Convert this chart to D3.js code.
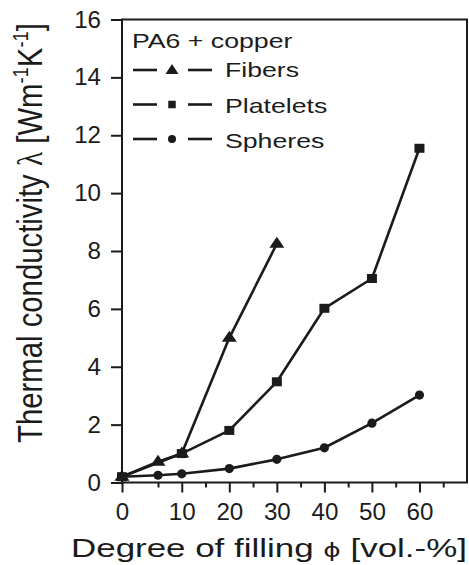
<!DOCTYPE html>
<html>
<head>
<meta charset="utf-8">
<script src="https://cdn.jsdelivr.net/npm/d3@7"></script>
<style>
  html, body { margin: 0; padding: 0; background: #fff; }
  svg { display: block; }
  text { font-family: "Liberation Sans", Arial, sans-serif; fill: #1b1b1b; }
</style>
</head>
<body>
<svg id="chart" width="469" height="565"></svg>
<script>
// Thermal conductivity of PA6 filled with copper particles of different shapes
const fillFibers = [0, 5, 10, 20, 30];
const lambdaFibers = [0.2, 0.72, 1.0, 5.0, 8.25];

const fillPlatelets = [0, 10, 20, 30, 40, 50, 60];
const lambdaPlatelets = [0.2, 1.0, 1.8, 3.48, 6.02, 7.05, 11.55];

const fillSpheres = [0, 5, 10, 20, 30, 40, 50, 60];
const lambdaSpheres = [0.2, 0.25, 0.3, 0.48, 0.8, 1.2, 2.05, 3.02];

const seriesNames = ["Fibers", "Platelets", "Spheres"];
const xTickValues = [0, 10, 20, 30, 40, 50, 60];
const xMinorValues = [5, 15, 25, 35, 45, 55, 65];
const yTickValues = [0, 2, 4, 6, 8, 10, 12, 14, 16];

const svg = d3.select("#chart");
const ink = "#1b1b1b";

// x axis starts with a short 0-5 segment, then a regular scale
const x = d3.scaleLinear().domain([0, 5, 70]).range([122, 158, 467]);
const y = d3.scaleLinear().domain([0, 16]).range([482.5, 19.5]);

// text stretched horizontally by a factor sx
function addText(g, str, px, py, opts) {
  const t = g.append("text")
    .attr("font-size", opts.size)
    .attr("text-anchor", opts.anchor || "start")
    .text(str);
  t.attr("transform", `translate(${px},${py}) scale(${opts.sx || 1},1)`);
  return t;
}

// plot frame
const frame = svg.append("g").attr("fill", "none").attr("stroke", ink).attr("stroke-width", 2);
frame.append("path")
  .attr("d", `M${x(0)},${y(0)} V${y(16)} H${x(70)} V${y(0)} Z`);

// y axis ticks and labels
const yAxis = d3.axisLeft(y).tickValues(yTickValues).tickSize(11).tickFormat(d3.format("d"));
const gy = svg.append("g").attr("transform", `translate(${x(0)},0)`).call(yAxis);
gy.select(".domain").remove();
gy.selectAll(".tick line").attr("stroke", ink).attr("stroke-width", 2);
gy.selectAll(".tick text").remove();
yTickValues.forEach(v => {
  addText(svg, String(v), 101, y(v) + 8, { size: 23, anchor: "end", sx: 1.05 });
});

// x axis major and minor ticks
const xAxis = d3.axisBottom(x).tickValues(xTickValues).tickSize(10);
const gx = svg.append("g").attr("transform", `translate(0,${y(0)})`).call(xAxis);
gx.select(".domain").remove();
gx.selectAll(".tick line").attr("stroke", ink).attr("stroke-width", 2);
gx.selectAll(".tick text").remove();
const xMinor = d3.axisBottom(x).tickValues(xMinorValues).tickSize(5).tickFormat("");
const gxm = svg.append("g").attr("transform", `translate(0,${y(0)})`).call(xMinor);
gxm.select(".domain").remove();
gxm.selectAll(".tick line").attr("stroke", ink).attr("stroke-width", 2);
xTickValues.forEach(v => {
  addText(svg, String(v), x(v) + 0.5, 520, { size: 23, anchor: "middle", sx: 1.05 });
});

// axis titles
const xt = svg.append("text")
  .attr("font-size", 25)
  .attr("transform", "translate(71,557)");
xt.append("tspan").text("Degree of filling ");
xt.append("tspan").attr("font-family", "DejaVu Sans").attr("font-size", 19).text("\u03D5");
xt.append("tspan").text(" [vol.-%]");
{
  const w = xt.node().getBBox().width;
  xt.attr("transform", `translate(71,557) scale(${396 / w},1)`);
}

const yt = svg.append("text")
  .attr("font-size", 27)
  .attr("text-anchor", "middle");
yt.append("tspan").text("Thermal conductivity ");
yt.append("tspan").attr("font-family", "Liberation Serif").text("\u03BB");
yt.append("tspan").text(" [Wm");
yt.append("tspan").attr("font-size", 17).attr("dy", -11).text("-1");
yt.append("tspan").attr("dy", 11).text("K");
yt.append("tspan").attr("font-size", 17).attr("dy", -11).text("-1");
yt.append("tspan").attr("dy", 11).text("]");
{
  const len = yt.node().getComputedTextLength();
  const k = 420 / len;
  yt.attr("transform", `translate(42,233) scale(1.3,1) rotate(-90) scale(${k},1)`);
}

// markers
const tri = "M0,-7 L7.5,4 L-7.5,4 Z";
function square(w, h) { return `M${-w / 2},${-h / 2} h${w} v${h} h${-w} Z`; }

const lineGen = d3.line().x(d => x(d[0])).y(d => y(d[1]));
const plot = svg.append("g");

function drawSeries(xs, ys, kind) {
  const pts = xs.map((v, i) => [v, ys[i]]);
  plot.append("path")
    .attr("d", lineGen(pts))
    .attr("fill", "none").attr("stroke", ink)
    .attr("stroke-width", 2.6).attr("stroke-linejoin", "round");
  const m = plot.append("g").attr("fill", ink);
  pts.forEach(p => {
    if (kind === "circle") {
      m.append("circle").attr("cx", x(p[0])).attr("cy", y(p[1])).attr("r", 4.6);
    } else if (kind === "square") {
      m.append("path").attr("d", square(10, 9)).attr("transform", `translate(${x(p[0])},${y(p[1])})`);
    } else {
      m.append("path").attr("d", tri).attr("transform", `translate(${x(p[0])},${y(p[1])})`);
    }
  });
}
drawSeries(fillSpheres, lambdaSpheres, "circle");
drawSeries(fillPlatelets, lambdaPlatelets, "square");
drawSeries(fillFibers, lambdaFibers, "triangle");

// legend
const lg = svg.append("g");
addText(lg, "PA6 + copper", 132, 48, { size: 21, sx: 1.27 });
const kinds = ["triangle", "square", "circle"];
const rowY = [70, 104.5, 139];
const textY = [77, 112.5, 147.5];
seriesNames.forEach((name, i) => {
  lg.append("line").attr("x1", 133).attr("x2", 157).attr("y1", rowY[i]).attr("y2", rowY[i])
    .attr("stroke", ink).attr("stroke-width", 2.6);
  lg.append("line").attr("x1", 188).attr("x2", 212).attr("y1", rowY[i]).attr("y2", rowY[i])
    .attr("stroke", ink).attr("stroke-width", 2.6);
  const k = kinds[i];
  if (k === "circle") {
    lg.append("circle").attr("cx", 172).attr("cy", rowY[i]).attr("r", 4).attr("fill", ink);
  } else if (k === "square") {
    lg.append("path").attr("d", square(7.5, 7.5)).attr("transform", `translate(172,${rowY[i]})`).attr("fill", ink);
  } else {
    lg.append("path").attr("d", "M0,-6 L6.5,4 L-6.5,4 Z").attr("transform", `translate(172,${rowY[i]})`).attr("fill", ink);
  }
  addText(lg, name, 225, textY[i], { size: 21, sx: 1.27 });
});
</script>
</body>
</html>
